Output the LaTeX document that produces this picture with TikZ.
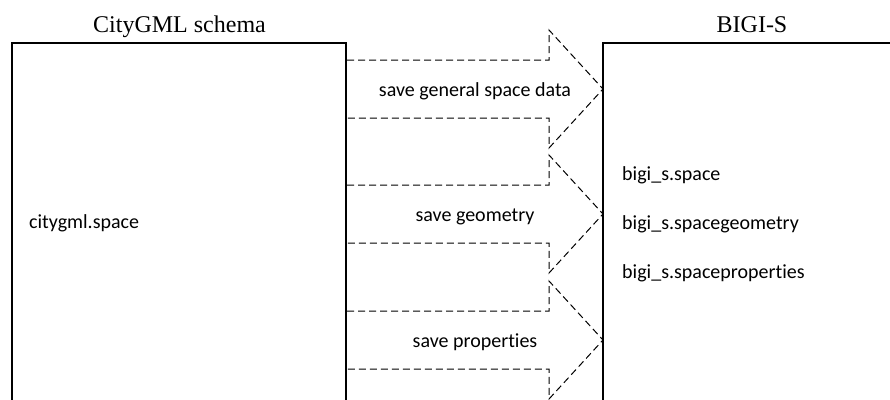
\documentclass[tikz,border=0pt]{standalone}
\usepackage{fontspec}
\setmainfont{Liberation Serif}
\newfontfamily\calfont[RawFeature={-liga;-clig}]{Carlito}
\begin{document}
\begin{tikzpicture}[x=1pt,y=-1pt,
  boxline/.style={line width=1.8pt,black},
  flow/.style={line width=1pt,dash pattern=on 7pt off 4pt,black},
  title/.style={font=\fontsize{24}{28}\selectfont,anchor=base,inner sep=0pt},
  lbl/.style={font=\calfont\fontsize{20}{24}\selectfont,anchor=base,inner sep=0pt,text=black},
  item/.style={lbl,anchor=base west}]
\useasboundingbox (0,0) rectangle (890,399);
\clip (0,0) rectangle (890,399);
% boxes
\coordinate (L1) at (12,405); \coordinate (L2) at (12,43);
\coordinate (L3) at (346,43); \coordinate (L4) at (346,405);
\coordinate (R1) at (603,405); \coordinate (R2) at (603,43);
\coordinate (R3) at (895,43);
% arrows
\foreach \c/\t [count=\i] in {89/save general space data,214/save geometry,340/save properties}{
  \draw[flow] (347,\c-29) -- (549,\c-29) -- (549,\c-59) -- (603,\c) -- (549,\c+59) -- (549,\c+29) -- (347,\c+29);
  \node[lbl] (a\i) at (475,\c+7) {\t};
}
\draw[boxline] (L1) -- (L2) -- (L3) -- (L4);
\draw[boxline] (R1) -- (R2) -- (R3);
\node[title] (t1) at (179.5,32) {CityGML schema};
\node[title] (t2) at (752,32) {BIGI-S};
\node[item] (c1) at (29,228) {citygml.space};
\node[item] (b1) at (622,180) {bigi\_s.space};
\node[item] (b2) at (622,229) {bigi\_s.spacegeometry};
\node[item] (b3) at (622,278) {bigi\_s.spaceproperties};
\end{tikzpicture}
\end{document}
